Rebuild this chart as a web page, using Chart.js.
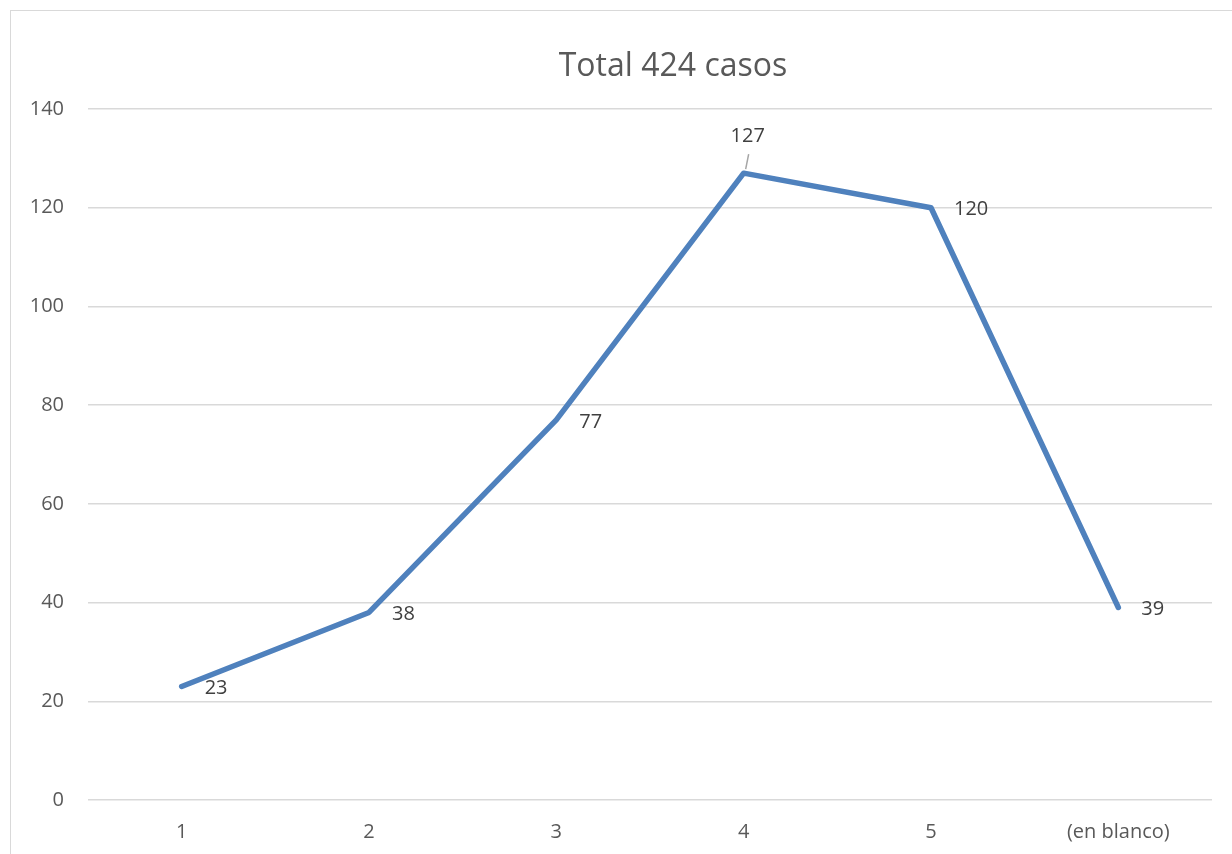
<!DOCTYPE html>
<html>
<head>
<meta charset="utf-8">
<script src="https://cdn.jsdelivr.net/npm/chart.js@4/dist/chart.umd.min.js"></script>
<style>
  html, body { margin: 0; padding: 0; background: #fff; overflow: hidden; }
  #wrap { position: relative; width: 1232px; height: 854px; }
  #frame { position: absolute; left: 10px; top: 10px; width: 1240px; height: 870px; border: 1.5px solid #d9d9d9; box-sizing: border-box; }
  canvas { position: absolute; left: 0; top: 0; }
</style>
</head>
<body>
<div id="wrap">
  <div id="frame"></div>
  <canvas id="casosChart" width="1232" height="854"></canvas>
</div>
<script>
const categorias = ['1', '2', '3', '4', '5', '(en blanco)'];
const casos = [23, 38, 77, 127, 120, 39];
const yTicks = [0, 20, 40, 60, 80, 100, 120, 140];
const titulo = 'Total 424 casos';

// titulo un poco corrido a la derecha como en el original
const tituloPlugin = {
  id: 'tituloPlugin',
  afterDraw(chart) {
    const c = chart.ctx;
    c.save();
    c.font = '32px "Open Sans"';
    c.fillStyle = '#595959';
    c.textAlign = 'center';
    c.textBaseline = 'middle';
    c.fillText(titulo, 673, 67);
    c.restore();
  }
};

// etiquetas de datos a la derecha del punto, la del 4 va arriba con linea guia
const etiquetas = {
  id: 'etiquetas',
  afterDatasetsDraw(chart) {
    const c = chart.ctx;
    const meta = chart.getDatasetMeta(0);
    c.save();
    c.font = '20px "Open Sans"';
    c.fillStyle = '#404040';
    c.textBaseline = 'middle';
    meta.data.forEach((pt, i) => {
      const v = casos[i];
      if (i === 3) {
        c.strokeStyle = '#a6a6a6';
        c.lineWidth = 1.5;
        c.beginPath();
        c.moveTo(pt.x + 2, pt.y - 4);
        c.lineTo(pt.x + 5, pt.y - 19);
        c.stroke();
        c.textAlign = 'center';
        c.fillText(v, pt.x + 4, pt.y - 37);
      } else {
        c.textAlign = 'left';
        c.fillText(v, pt.x + 23, pt.y + 2);
      }
    });
    c.restore();
  }
};

new Chart(document.getElementById('casosChart').getContext('2d'), {
  type: 'line',
  data: {
    labels: categorias,
    datasets: [{
      label: 'Casos',
      data: casos,
      borderColor: '#4F81BD',
      borderWidth: 5.5,
      borderCapStyle: 'round',
      borderJoinStyle: 'round',
      pointRadius: 0,
      fill: false,
      tension: 0
    }]
  },
  options: {
    responsive: false,
    animation: false,
    layout: { padding: { left: 10, right: 20, top: 109, bottom: 0 } },
    plugins: {
      legend: { display: false },
      tooltip: { enabled: false },
      title: { display: false }
    },
    scales: {
      x: {
        offset: true,
        grid: { display: false },
        border: { display: false },
        ticks: { color: '#595959', font: { family: 'Open Sans', size: 20 }, padding: 12 },
        afterFit: s => { s.height = 54; }
      },
      y: {
        min: 0,
        max: 140,
        afterBuildTicks: s => { s.ticks = yTicks.map(v => ({ value: v })); },
        grid: { color: '#d9d9d9', lineWidth: 1.5, drawTicks: false },
        border: { display: false },
        ticks: { color: '#595959', font: { family: 'Open Sans', size: 20 }, padding: 24 },
        afterFit: s => { s.width = 78; }
      }
    }
  },
  plugins: [etiquetas, tituloPlugin]
});
</script>
</body>
</html>
